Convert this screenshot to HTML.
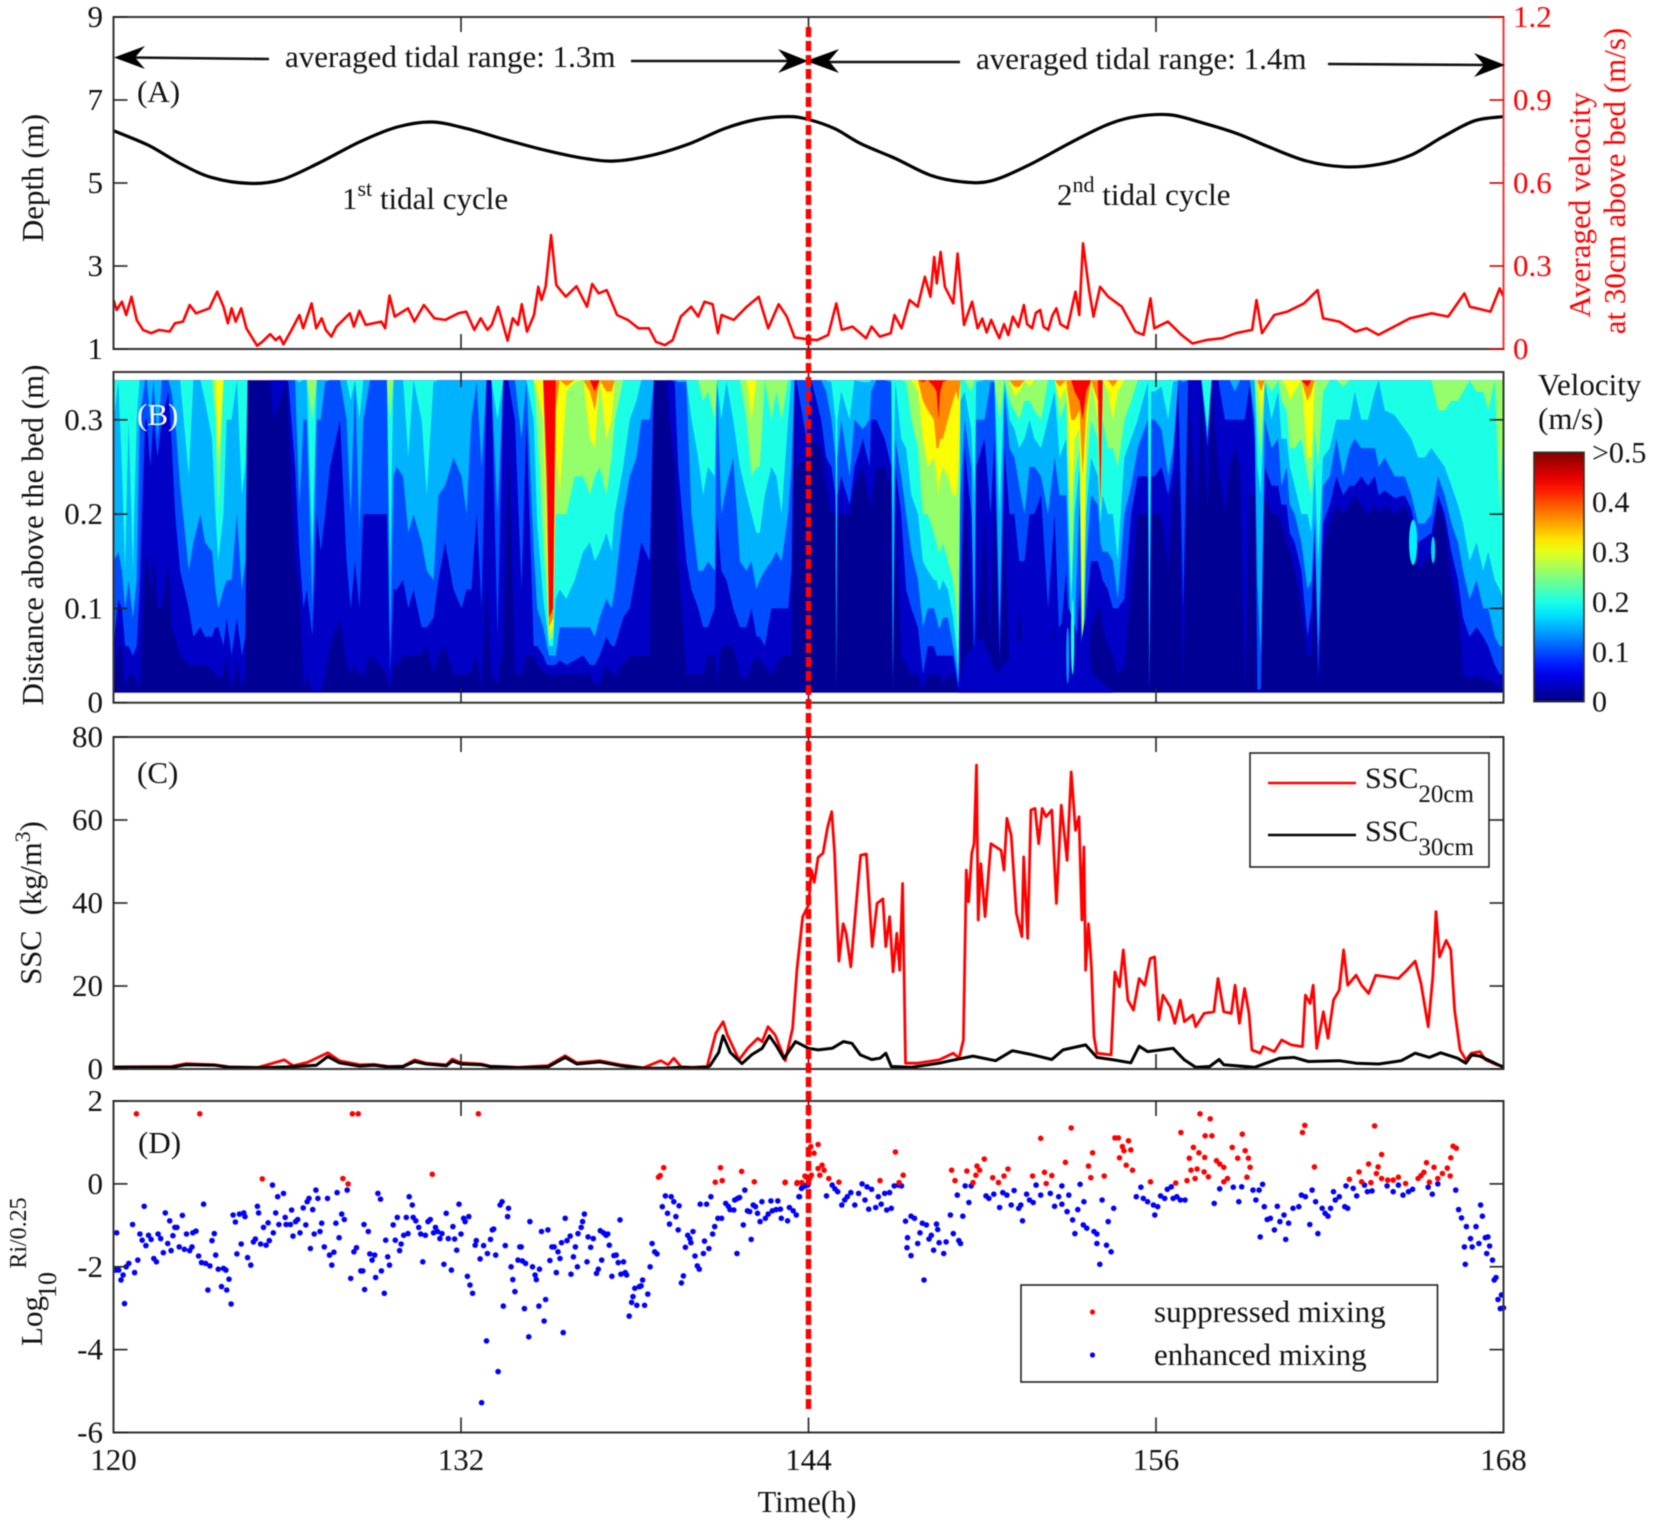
<!DOCTYPE html>
<html lang="en">
<head>
<meta charset="utf-8">
<title>Tidal hydrodynamics and SSC time series</title>
<style>
html,body{margin:0;padding:0;background:#fff;}
svg{display:block;filter:blur(.45px);font-family:"Liberation Serif",serif;fill:#111;}
</style>
</head>
<body>
<svg id="chart" xmlns="http://www.w3.org/2000/svg" width="1654" height="1525" viewBox="0 0 1654 1525" font-size="31">
  <g id="panel-a"></g>
  <g id="panel-b"></g>
  <g id="panel-c"></g>
  <g id="panel-d"></g>
  <g id="colorbar"></g>

  <g>
    <path d="M130 57.5L269 59" stroke="#111" stroke-width="2.6" fill="none"/>
    <polygon points="114,57.5 145,46 135,57.5 145,69" fill="#000"/>
    <path d="M631 61L795 61" stroke="#111" stroke-width="2.6" fill="none"/>
    <polygon points="808,61 778,49 788,61 778,73" fill="#000"/>
    <path d="M820 62L960 62" stroke="#111" stroke-width="2.6" fill="none"/>
    <polygon points="806,61 839,49 829,61 839,73" fill="#000"/>
    <path d="M1328 64L1490 65" stroke="#111" stroke-width="2.6" fill="none"/>
    <polygon points="1505,65 1474,53 1484,65 1474,77" fill="#000"/>
    <text x="285" y="67">averaged tidal range: 1.3m</text>
    <text x="976" y="69">averaged tidal range: 1.4m</text>
    <text x="137" y="102">(A)</text>
    <text x="342" y="209">1<tspan dy="-13" font-size="22">st</tspan><tspan dy="13"> tidal cycle</tspan></text>
    <text x="1057" y="205">2<tspan dy="-13" font-size="22">nd</tspan><tspan dy="13"> tidal cycle</tspan></text>
  </g>

  <text x="137" y="783">(C)</text>
  <text x="138" y="1153">(D)</text>

  <text transform="translate(43,178) rotate(-90)" text-anchor="middle">Depth (m)</text>
  <text transform="translate(43,535) rotate(-90)" text-anchor="middle">Distance above the bed (m)</text>
  <text transform="translate(41,903) rotate(-90)" text-anchor="middle" font-size="30.5">SSC&#160;&#160;(kg/m<tspan dy="-11" font-size="22">3</tspan><tspan dy="11">)</tspan></text>
  <g>
    <text transform="translate(42,1321) rotate(-90)" text-anchor="middle">Log</text>
    <text transform="translate(56,1285) rotate(-90)" text-anchor="middle" font-size="26">10</text>
    <text transform="translate(26,1233) rotate(-90)" text-anchor="middle" font-size="24">Ri/0.25</text>
  </g>
  <text transform="translate(1590,205) rotate(-90)" text-anchor="middle" style="fill:#f00">Averaged velocity</text>
  <text transform="translate(1625,181) rotate(-90)" text-anchor="middle" style="fill:#f00">at 30cm above bed (m/s)</text>
  <text x="807" y="1512" text-anchor="middle" font-size="30.5">Time(h)</text>
  <text x="1538" y="395">Velocity</text>
  <text x="1538" y="429">(m/s)</text>

  <g>
    <rect x="1250" y="753" width="239" height="114" fill="#fff" stroke="#222" stroke-width="1.6"/>
    <line x1="1268" x2="1356" y1="783" y2="783" stroke="#f00" stroke-width="2.6"/>
    <line x1="1268" x2="1356" y1="835" y2="835" stroke="#000" stroke-width="2.6"/>
    <text x="1365" y="788" font-size="30">SSC<tspan dy="14" font-size="25">20cm</tspan></text>
    <text x="1365" y="841" font-size="30">SSC<tspan dy="14" font-size="25">30cm</tspan></text>
  </g>
  <g>
    <rect x="1021" y="1285" width="416.5" height="97" fill="none" stroke="#222" stroke-width="1.6"/>
    <circle cx="1092.5" cy="1312" r="2.6" fill="#f00"/>
    <circle cx="1092.5" cy="1355" r="2.6" fill="#00f"/>
    <text x="1154" y="1322">suppressed mixing</text>
    <text x="1154" y="1365">enhanced mixing</text>
  </g>
  <g id="overlay"></g>
</svg>

<script>
// ---------- Panel A data ----------
const timeTicks = [120, 132, 144, 156, 168];
const depthTicks = [1, 3, 5, 7, 9];
const velocityTicks = [0, 0.3, 0.6, 0.9, 1.2];
const depthHours = [120,121.2,122.3,123.4,124.7,125.8,127.06,128.5,129.8,131,132.2,133.5,134.9,136.2,137.3,138.6,139.9,141.1,142.2,143.3,144,144.9,145.8,147,148.2,149.3,150.3,151.6,153.1,154.4,155.4,156.5,157.6,158.8,159.9,161.2,162.5,163.7,164.8,165.9,167,168];
const depthValues = [6.26,5.91,5.47,5.13,4.99,5.08,5.47,5.99,6.35,6.47,6.31,6.05,5.79,5.6,5.53,5.67,5.95,6.31,6.53,6.6,6.53,6.31,5.95,5.59,5.19,5.03,5.05,5.43,5.99,6.43,6.61,6.64,6.45,6.19,5.87,5.53,5.39,5.45,5.67,6.11,6.5,6.6];
const velHours = [120,120.11,120.29,120.44,120.62,120.8,121.02,121.3,121.57,121.94,122.12,122.4,122.63,122.85,123.31,123.58,123.8,123.95,124.08,124.22,124.41,124.59,124.96,125.14,125.41,125.6,125.74,125.87,126.15,126.42,126.55,126.84,127,127.19,127.33,127.52,127.7,128.16,128.3,128.49,128.71,129.25,129.38,129.53,129.71,130.17,130.39,130.72,131.08,131.45,131.91,132.18,132.46,132.68,132.91,133.06,133.28,133.61,133.79,133.97,134.1,134.28,134.52,134.67,134.78,134.92,135.11,135.29,135.62,135.99,136.35,136.53,136.75,137.03,137.39,137.76,138.13,138.49,138.73,139.04,139.31,139.59,139.95,140.19,140.41,140.69,140.87,141,141.42,141.87,142.28,142.61,142.97,143.25,143.52,143.98,
144.3,144.68,144.96,145.15,145.52,145.99,146.18,146.46,146.84,146.97,147.21,147.49,147.77,148.02,148.21,148.34,148.43,148.56,148.71,149,149.15,149.37,149.65,149.84,150,150.15,150.31,150.45,150.59,150.75,150.9,151.06,151.25,151.44,151.55,151.72,151.85,152,152.12,152.28,152.42,152.56,152.7,152.94,153.22,153.35,153.48,153.69,153.84,154.07,154.35,154.82,155.29,155.57,155.81,155.94,156.41,156.88,157.26,157.73,158.29,158.76,159.32,159.47,159.66,160.08,160.54,161.11,161.58,161.77,162.33,162.89,163.27,163.68,164.11,164.77,165.52,166.09,166.65,166.84,167.55,167.87,168];
const velValues = [.177,.141,.171,.123,.189,.105,.069,.057,.069,.063,.093,.099,.159,.129,.147,.207,.153,.093,.147,.099,.147,.075,.012,.026,.054,.032,.045,.017,.069,.123,.075,.165,.075,.111,.069,.045,.081,.129,.081,.138,.087,.099,.075,.193,.117,.147,.099,.159,.111,.105,.129,.135,.069,.111,.069,.087,.153,.03,.111,.087,.162,.063,.123,.225,.177,.225,.412,.231,.189,.227,.153,.235,.201,.213,.123,.105,.075,.075,.026,.014,.032,.117,.153,.117,.171,.162,.057,.123,.105,.153,.189,.075,.162,.117,.042,.035,
.032,.051,.165,.069,.081,.039,.081,.045,.057,.123,.075,.177,.153,.261,.189,.333,.237,.351,.225,.165,.345,.087,.171,.075,.11,.06,.105,.07,.039,.09,.05,.117,.08,.159,.09,.075,.13,.141,.08,.069,.12,.147,.09,.075,.207,.123,.382,.213,.117,.225,.189,.153,.063,.051,.183,.075,.099,.051,.02,.032,.039,.057,.069,.177,.057,.123,.135,.165,.213,.111,.099,.063,.075,.051,.075,.111,.129,.117,.201,.153,.135,.219,.189];

// ---------- Panel B data: each column = hour, then heights (m) where speed crosses each contour level ----------
const heightTicks = [0, 0.1, 0.2, 0.3];
const contourLevels = [.02,.05,.1,.15,.2,.25,.3,.35];
const bandSpeeds = [.01,.035,.1,.15,.2,.26,.31,.37,.44];
const contourColumns = [
[120,.02,.06,.15,.3],[120.17,.06,.11,.16,.34],[120.29,.06,.1,.14,.25],[120.4,.015,.06,.1,.14],[120.52,.03,.06,.13,.3],[120.67,.03,.05,.09,.14],[120.8,.02,.06,.13,.3],[120.9,.012,.12,.3],[121.09,.15,.3,.342],[121.15,.16,.3],[121.27,.12,.25,.3],[121.38,.16,.3],[121.52,.1,.26,.28],[121.67,.1,.3],[121.9,.15,.33],[122,.08,.28,.33],[122.13,.07,.2,.3],[122.3,.05,.14,.23],[122.6,.04,.1,.14,.24],[122.76,.04,.07,.17],[123,.04,.08,.2],[123.16,.04,.07,.17,.32],[123.4,.035,.07,.16,.28],[123.52,.03,.08,.12,.2,.3],[123.62,.025,.08,.1,.15,.2,.26],[123.8,.03,.06,.12,.2],[123.91,.05,.09,.13,.3],[124.08,.012,.05,.13,.3],[124.26,.045,.09,.2],[124.43,.012,.05,.12,.22],[124.55,.03,.07,.15,.25],
[124.63,.342],[125.41,.342],[125.52,.3],[125.75,.32],[125.98,.342],[126.04,.3,.34],[126.27,.15,.25],[126.42,.12,.16,.21,.34],[126.56,.012,.1,.3],[126.67,.03,.12,.3],[126.87,.012,.07,.1,.16,.3],[127.02,.012,.2,.3],[127.16,.012,.16,.3],[127.31,.03,.2,.34],[127.48,.06,.25],[127.82,.09,.3],[128.05,.04,.15,.3],[128.19,.03,.1,.2,.32],[128.34,.04,.15,.34],[128.49,.03,.1,.18,.3],[128.63,.03,.2,.3],[128.86,.05,.2],[129.2,.04,.2],[129.44,.03,.2],[129.55,.012,.03,.06,.14,.3],[129.67,.04,.12,.24],[129.78,.04,.12,.25],[130,.05,.13,.24],[130.18,.05,.1,.18,.26],[130.36,.05,.12,.2],[130.64,.05,.08,.17,.3],[130.82,.06,.08,.14,.22],[131.05,.03,.09,.13,.34],[131.22,.05,.13,.22],[131.45,.06,.17,.23],[131.74,.03,.12,.26],
[132.02,.03,.1,.24],[132.19,.03,.12,.2],[132.36,.035,.12,.3],[132.54,.05,.2,.34],[132.71,.012,.1,.25],[132.88,.13,.342],[133.05,.03,.342],[133.26,.02,.07,.2,.3],[133.46,.06,.342],[133.63,.28],[133.86,.03,.3],[134.09,.03,.12,.28],[134.26,.05,.3],[134.51,.05,.06,.16,.3],[134.63,.04,.06,.1,.19,.29,.33],[134.84,.035,.05,.08,.11,.17,.3],[134.97,.03,.04,.06,.08,.11,.15,.2,.24],[135.04,.03,.04,.05,.06,.065,.07,.08,.09],[135.18,.03,.04,.05,.06,.07,.08,.09,.1],[135.27,.03,.04,.05,.11,.2,.27,.31],[135.41,.03,.045,.08,.12,.2,.22],[135.64,.03,.04,.08,.11,.2,.33,.336],[135.93,.03,.045,.08,.13,.24,.34],[136.22,.03,.05,.08,.16,.24],[136.45,.03,.04,.08,.17,.22,.28,.33],[136.62,.02,.04,.07,.15,.24,.27,.31,.33],[136.79,.02,.05,.09,.16,.25],[137.02,.04,.07,.11,.18,.22,.28,.33],[137.2,.03,.06,.1,.16,.26,.3,.33],[137.31,.03,.06,.12,.2,.3],[137.6,.04,.09,.2,.25],[137.83,.05,.1,.24,.3],[138.06,.05,.14,.26,.32],[138.23,.05,.17,.3],[138.52,.05,.15,.3],
[138.66,.342],[139.1,.342],[139.23,.29],[139.38,.25,.34],[139.5,.15,.25,.34],[139.78,.03,.15,.34],[139.96,.03,.12,.2,.3],[140.19,.03,.1,.14,.26],[140.36,.03,.08,.14,.22,.32],[140.53,.05,.08,.15,.25,.33],[140.76,.05,.1,.14,.24,.3],[140.84,.02,.2,.342],[140.99,.06,.14,.2,.3],[141.17,.06,.13,.23,.34],[141.4,.06,.1,.26,.3],[141.63,.03,.08,.15,.25],[141.86,.025,.08,.14,.22,.3],[142.03,.04,.1,.15,.2,.24,.3],[142.2,.05,.07,.12,.18,.25],[142.32,.045,.07,.13,.18,.25],[142.49,.04,.06,.14,.22],[142.72,.03,.1,.15,.25,.3],[142.89,.04,.1,.16,.24,.33],[143.07,.05,.1,.15,.2,.3],[143.3,.05,.1,.2,.3],[143.41,.05,.14,.25],[143.52,.342],[143.58,.25,.342],[143.93,.26,.28],
[144.1,.28,.342],[144.44,.27,.3],[144.61,.23,.26,.33],[144.79,.2,.25,.3,.34],[144.93,.2,.22,.26,.3],[144.96,.012,.014,.02,.2],[145,.2,.22,.26,.3],[145.13,.2,.24,.3,.33],[145.42,.2,.21,.24,.3],[145.59,.23,.25,.3],[145.88,.25,.28,.29,.34],[146.11,.21,.25,.3,.34],[146.17,.21,.3,.33],[146.34,.25,.3],[146.63,.25,.28],[146.86,.23,.25,.34],[146.91,.012,.015,.03,.2],[147,.2,.25,.28,.34],[147.2,.05,.2,.24,.28],[147.37,.04,.12,.2,.27,.34],[147.55,.03,.1,.16,.22,.3],[147.78,.03,.08,.13,.2,.27,.33],[147.95,.012,.03,.08,.15,.2,.28,.32,.34],[148.12,.03,.06,.1,.14,.2,.25,.31],
[148.33,.03,.06,.1,.13,.18,.26,.3,.335],[148.42,.03,.05,.09,.13,.17,.24,.27,.33],[148.49,.03,.05,.08,.12,.16,.22,.27,.3],[148.55,.03,.05,.08,.12,.16,.24,.28,.33],[148.64,.02,.05,.09,.13,.17,.25,.28,.34],[148.81,.03,.05,.09,.12,.15,.24,.3,.342],[148.99,.03,.05,.06,.09,.13,.22,.32],[149.1,.02,.03,.04,.06,.1,.22,.33],[149.18,.012,.015,.02,.03,.05,.25,.32],
[149.25,.012,.1,.22,.32],[149.39,.22,.27,.3,.33],[149.62,.1,.2,.25,.29,.33],[149.73,.02,.03,.07,.22],[149.79,.05,.25,.3,.34],[150.08,.2,.28,.3],[150.29,.06,.2,.34],[150.42,.22,.28,.34],[150.6,.03,.05,.08,.2,.3],[150.77,.2,.27,.33],[150.94,.03,.2,.27,.3,.32],[151.11,.03,.2,.26,.29,.31,.325,.335],[151.28,.1,.15,.23,.27,.3,.33,.335],[151.46,.03,.15,.2,.28,.32],[151.63,.03,.2,.25,.3,.32,.335],[151.8,.04,.2,.25,.28,.31],[152.03,.04,.22,.24,.27,.3],[152.27,.05,.1,.2,.3],[152.5,.08,.2,.26,.33],[152.67,.03,.06,.22,.26,.3,.32,.335],[152.9,.04,.14,.22,.28,.32,.335],[153.07,.015,.03,.05,.1,.12,.2,.3],[153.19,.02,.03,.08,.2,.24,.28,.3,.33],[153.36,.07,.12,.22,.25,.27,.29,.31,.32],[153.47,.012,.014,.016,.018,.02,.05,.24,.3],[153.59,.012,.1,.15,.2,.24,.28,.31,.33],[153.76,.08,.15,.22,.26,.3],[153.99,.1,.15,.21,.24,.28,.3,.32],[154.08,.1,.14,.17,.19,.2,.2,.205,.21],[154.16,.08,.13,.16,.22,.3],[154.34,.06,.12,.16,.2,.27,.33],[154.51,.05,.1,.15,.2,.27,.3,.335],[154.68,.03,.1,.11,.15,.25,.33],[154.91,.04,.11,.2,.26,.3],[155.14,.12,.2,.23,.28,.32],[155.37,.2,.24,.27,.3],[155.72,.2,.24,.3,.34],[155.77,.012,.014,.016,.1],[155.84,.2,.24,.3,.33],
[155.96,.2,.24,.3,.33],[156.19,.2,.25,.29,.335],[156.42,.14,.22,.24,.3],[156.59,.22,.25,.27,.34],[156.77,.25,.34],[156.94,.012,.1,.34],[157.11,.342],[157.4,.2,.342],[157.57,.342],[157.78,.2,.27,.28,.29],[157.92,.342],[158.15,.25,.342],[158.38,.2,.3],[158.55,.25,.3],[158.72,.27,.3,.33],[158.9,.25,.3],[159.07,.012,.3],[159.24,.22,.34],[159.41,.22,.28,.3,.342],[159.5,.012,.014,.13,.25,.3],[159.62,.012,.014,.05,.22,.26,.3,.33],[159.76,.22,.25,.3,.34],[159.99,.2,.23,.27,.3,.33],[160.22,.2,.23,.28,.33],[160.33,.19,.21,.23,.28,.32],[160.51,.17,.21,.25,.28,.31,.335],[160.62,.16,.18,.21,.25,.27,.32],[160.79,.14,.17,.2,.23,.27,.33],[161.02,.1,.14,.17,.2,.28],[161.23,.05,.07,.12,.2,.24,.26,.32,.335],[161.37,.05,.1,.13,.18,.22,.26,.33],[161.48,.15,.18,.2,.25,.29],[161.6,.012,.03,.06,.15,.25],[161.77,.16,.19,.23,.26,.33],[162,.19,.21,.24,.27],[162.23,.21,.24,.28,.3],[162.46,.2,.22,.24,.3,.335],[162.69,.21,.23,.27,.3],[162.86,.22,.23,.28,.33],[163.09,.21,.24,.27,.3],[163.32,.2,.23,.27,.3],[163.56,.21,.24,.27,.33],[163.69,.2,.22,.25,.342],[163.9,.21,.225,.26,.31],[164.24,.2,.217,.24,.305],[164.59,.21,.22,.24,.29],[164.82,.19,.205,.22,.28],[165.05,.14,.17,.19,.26],[165.28,.15,.175,.19,.26],[165.51,.16,.18,.2,.27],[165.74,.21,.22,.24,.26,.31],[165.97,.19,.2,.22,.25,.31],[166.2,.13,.16,.19,.23,.32],[166.43,.1,.13,.17,.21,.32],[166.6,.03,.09,.14,.19,.33],[166.83,.025,.07,.11,.15],[167.07,.03,.08,.13,.17,.33],[167.3,.025,.07,.1,.14,.33],[167.47,.025,.06,.1,.16,.31],[167.7,.02,.04,.07,.13],[167.87,.017,.03,.06,.12,.2],[168,.015,.03,.06,.11,.3]
];
const nearBedHours = [149.2,149.4,150,150.5,151,151.5,152,152.5,153,153.4,153.55,153.8,154.2,154.5];
const nearBedTops = [.012,.05,.07,.03,.05,.08,.04,.07,.1,.06,.09,.03,.02,.012];
const patchHours = [164.88,165.57,152.95,153.12];
const patchHeights = [.17,.162,.05,.07];
const patchSpeeds = [.18,.17,.14,.2];
const patchHalfHours = [.14,.07,.05,.06];
const patchHalfMeters = [.024,.014,.03,.04];
const colorbarTicks = [0, 0.1, 0.2, 0.3, 0.4, 0.5];
const colorbarTickLabels = ['0', '0.1', '0.2', '0.3', '0.4', '>0.5'];

// ---------- Panel C data ----------
const sscTicks = [0, 20, 40, 60, 80];
const ssc20Hours = [120,122,122.5,123.5,124,125,125.9,126.2,126.7,127.4,127.8,128.5,129,129.5,130,130.4,130.8,131.5,131.7,132,132.7,133,134,135,135.6,136,136.8,137.5,138.3,138.9,139.15,139.35,139.6,140,140.5,140.8,141.05,141.2,141.6,141.9,142.25,142.4,142.6,142.85,143.1,143.2,143.45,143.6,143.8,144,144.1,144.2,144.33,144.5,144.66,144.8,144.9,145.05,145.2,145.3,145.46,145.7,145.8,146,146.2,146.37,146.57,146.67,146.8,146.92,147.05,147.15,147.25,147.35,147.74,148.51,149,149.2,149.35,149.45,149.53,149.64,149.72,149.8,149.86,149.95,150.1,150.3,150.65,150.75,150.85,151,151.18,151.37,151.43,151.57,151.68,151.82,151.95,152.07,152.2,152.4,152.56,152.73,152.93,153.07,153.22,153.34,153.44,153.51,153.57,153.67,153.77,153.86,153.96,154.45,154.58,154.74,154.87,155.03,155.22,155.42,155.61,155.8,155.95,156.1,156.24,156.49,156.65,156.84,156.98,157.27,157.37,157.66,158,158.14,158.34,158.6,158.73,158.88,159.06,159.21,159.31,159.6,159.7,160.09,160.34,160.67,161.06,161.16,161.32,161.43,161.55,161.78,161.94,162.13,162.33,162.48,162.62,162.91,163.1,163.34,163.59,164.37,164.66,164.95,165.15,165.4,165.56,165.67,165.79,166.02,166.18,166.31,166.5,166.7,166.89,167.19,167.38,167.77,168];
const ssc20Values = [.5,.6,1.3,1,.5,.4,2.2,.8,1.6,3.9,2,1,1.1,.6,.7,2.2,1.4,1,2.4,1.5,1.2,.7,.4,.8,3.2,1.5,2,1,.3,2,1,2.6,.5,.4,.6,8.6,11.4,8.2,2.2,5,7.4,6.6,10.2,8.2,3.8,2,9.8,23.8,36.7,39.5,47.9,45,51,52,58.3,62,52,26,35,32.7,24.6,43.9,51.5,51.8,29.5,39.9,41,29.5,36.7,23.4,32.7,23.8,44.7,1.4,1.4,2.2,3.8,2.6,7,47.9,40.3,52,54.3,73.2,35.9,49.5,36.7,54.3,52.7,47.9,60.4,56.3,37.5,31.9,51.1,31.5,62.4,62.8,54.3,62.8,60.8,62.4,39.9,63.6,50.3,71.6,57.5,60.8,35.9,53.5,23.8,35,24.6,7.8,3.8,3.4,23.4,19.8,28.7,16.6,14.2,21.8,20.2,26.6,27,11.8,17.8,15,11,16.6,11.4,13,10.2,13.4,13.8,21.8,13.8,13.4,20.2,11,19.4,13.4,4.6,3.8,5.4,4.2,7,5.8,5.4,17.8,15.8,20.2,5,13.8,7.4,16.6,19,28.7,20.2,22.6,20.2,18.2,22.6,21.8,23.8,26,20.6,10.2,22.2,37.9,27,31,28.7,14.2,4.6,2.2,3.8,4.2,2.2,1,.6];
const ssc30Hours = [120,122,122.5,123.5,124,125,126,126.5,127,127.4,127.8,128.5,129,129.5,130,130.4,130.8,131.5,131.7,132,132.7,133,134,135,135.6,136,136.8,137.5,138.3,139,139.6,140,140.5,140.6,140.9,141.05,141.3,141.7,142.05,142.4,142.65,142.9,143.15,143.55,144,144.33,144.82,145.21,145.5,145.79,146.18,146.47,146.67,146.86,147.54,148.51,148.9,149.68,150.46,151.04,151.63,152.4,152.79,153.57,153.96,154.54,155.13,155.42,155.71,156.59,156.98,157.37,157.85,158.18,158.34,159.41,159.8,160.28,160.77,161.26,162.33,162.91,163.69,164.47,164.95,165.44,165.83,166.41,166.7,166.9,167.19,167.58,168];
const ssc30Values = [.4,.4,1,.9,.4,.3,.5,.7,.9,3,1.5,.7,.9,.5,.6,1.8,1.2,.8,1.9,1.2,1,.6,.3,.5,2.8,1.2,1.7,.8,.2,.2,.4,.3,.4,.8,4,8,4,1.3,3.5,5,8,5.5,2.5,6.6,5,4.6,5,6.6,6.2,3.4,2.3,2.6,3.8,.6,.4,1.4,2,3.1,2,4.4,3.6,2.3,4.6,5.8,2.8,2.2,1.5,5.5,4.2,5,2.2,.4,.6,2.3,1,.4,1.4,2.6,2.8,1.8,2,1.4,1.2,2,3.8,2.8,3.9,2.6,1.4,3.4,3.1,1.8,.4];

// ---------- Panel D data ----------
const riTicks = [-6, -4, -2, 0, 2];
const suppressedHours = [120.79,122.98,125.14,127.92,128.1,128.25,128.45,131.01,132.6,138.82,138.88,139,140.78,141.02,140.96,141.69,142.13,143.19,143.6,143.88,143.94,
143.2,143.61,143.77,143.9,144.04,144.1,144.08,144.19,144.33,144.33,144.47,144.39,144.54,144.7,145.05,146.47,147,147.13,147.27,148.94,149.06,149.47,149.68,149.78,149.82,149.91,150.07,150.36,150.56,150.75,150.89,151.74,152.02,152.15,152.21,152.4,152.87,153.07,153.67,153.75,153.81,154.21,154.58,154.7,154.74,154.84,154.89,154.97,155.13,155.05,155.19,155.81,156.68,156.86,157.07,157.15,157.21,157.29,157.35,157.42,157.48,157.68,157.52,157.7,157.87,157.93,157.66,157.81,158.09,158.2,158.34,158.47,158.34,158.63,158.82,158.98,159.08,159.14,159.19,159.25,161.06,161.14,161.47,162.68,163.01,163.1,163.34,163.55,163.42,163.61,163.67,163.79,163.79,164,164.19,164.37,164.62,165.05,165.15,165.25,165.34,165.44,165.6,165.73,165.89,166.06,166.16,166.18,166.26,166.37];
const suppressedValues = [1.69,1.69,.12,.13,0,1.69,1.69,.23,1.69,.16,.2,.39,.04,.08,.39,.3,.05,.03,.01,.19,.17,
.04,.03,.03,.17,.13,.21,.9,.74,.95,.37,.45,.21,.33,.13,.04,.08,.77,.03,.21,.33,.08,.31,.03,.21,.43,.33,.6,.15,.03,.19,.36,.19,1.1,.28,.01,.2,.52,1.35,.43,.15,.75,.19,1.11,1.11,.63,.9,.8,.45,.82,1.04,.33,.05,.02,1.24,.08,.62,.33,.88,.13,.36,.75,.64,1.69,1.16,1.57,1.16,.29,.17,.56,.48,.4,.13,.05,.88,.62,1.2,.8,.16,.62,.4,1.24,1.41,.41,.11,.29,.05,.48,1.4,.03,.25,.41,.71,.13,.09,.09,.16,.01,.13,.2,.28,.51,.04,.4,.13,.25,.38,.19,.63,.91,.86];
const enhancedHours = [120.11,120.07,120.18,120.26,120.33,120.38,120.44,120.53,120.66,120.73,120.84,120.91,120.99,121.06,121.12,121.21,121.3,121.39,121.48,121.54,121.63,121.72,121.79,121.87,121.94,121.99,122.05,122.12,122.19,122.27,122.38,122.45,122.52,122.63,122.71,122.74,122.85,122.94,123.04,123.11,123.18,123.26,123.33,123.4,123.48,123.53,123.62,123.73,123.8,123.88,123.91,123.99,124.06,124.13,124.21,124.26,124.35,124.41,124.5,124.54,124.63,124.74,124.83,124.9,124.97,125.01,125.08,125.18,125.27,125.34,125.38,125.49,125.52,125.6,125.67,125.71,125.87,125.93,125.96,126.11,126.15,126.2,126.29,126.36,126.44,126.55,126.64,126.69,126.75,126.8,126.88,126.93,126.99,127.06,127.13,127.19,127.28,127.39,127.46,127.54,127.61,127.68,127.72,127.79,127.88,127.97,128.07,128.19,128.3,128.39,128.65,128.8,128.67,128.54,128.61,128.85,128.93,129.02,129.05,129.13,129.22,129.25,129.35,129.4,129.47,129.53,129.66,129.73,129.8,129.88,129.93,130.02,130.11,130.17,130.21,130.32,130.35,130.44,130.54,130.61,130.68,130.77,130.86,130.94,131.05,131.12,131.19,131.27,131.34,131.41,131.49,131.56,131.67,131.72,131.78,131.85,131.93,132,132.09,132.14,132.22,132.27,132.31,132.4,132.49,132.53,132.66,132.78,132.88,132.91,133.02,133.08,133.13,133.2,133.28,133.35,133.42,133.46,133.53,133.61,133.64,133.73,133.79,133.86,133.97,134.03,134.08,134.19,134.12,134.23,134.34,134.38,134.47,134.56,134.6,134.69,134.71,134.78,134.87,134.92,135,135.07,135.14,135.22,135.29,135.35,135.42,135.47,135.53,135.6,135.66,135.77,135.8,135.88,135.95,136.04,136.02,136.15,136.2,136.26,136.35,136.39,136.48,136.57,136.68,136.74,136.81,136.86,136.92,137.01,137.07,137.12,137.21,137.28,137.36,137.43,137.49,137.52,137.61,137.67,137.72,137.81,137.89,137.94,138,138.07,138.16,138.22,138.27,138.34,138.45,138.53,138.6,138.69,138.77,138.95,139.06,139.13,139.2,139.26,139.35,139.42,139.5,139.53,139.61,139.68,139.75,139.83,139.9,139.94,140.01,140.08,140.16,140.23,140.26,140.37,140.41,140.48,140.56,140.63,140.69,140.76,140.87,141,141.14,141.23,141.29,141.42,141.45,141.55,141.62,141.53,141.75,141.8,141.89,141.97,142.02,142.09,142.17,142.24,142.33,142.39,142.51,142.61,142.7,142.75,142.88,142.94,143.03,143.06,143.28,143.34,143.47,143.58,143.67,143.76,143.89,143.98,
143.69,143.79,143.94,144.62,144.82,144.91,145.01,145.15,145.25,145.34,145.46,145.6,145.73,145.85,145.95,146.02,146.08,146.18,146.32,146.41,146.51,146.63,146.7,146.8,146.86,146.96,147.11,147.21,147.35,147.42,147.4,147.54,147.54,147.66,147.77,147.85,147.93,147.99,148.07,148.16,148.24,148.32,148.42,148.46,148.51,148.67,148.75,148.9,149,149.19,149.25,149.33,149.14,149.41,149.54,149.62,150.13,150.23,150.4,150.6,150.71,150.85,151,151.1,151.26,151.33,151.39,151.53,151.63,151.76,151.86,152.02,152.35,152.5,152.64,152.75,152.75,152.93,152.99,153.12,153.2,153.3,153.38,153.49,153.51,153.61,153.86,153.96,153.96,154.06,154.14,154.29,154.35,154.45,154.54,155.32,155.48,155.56,155.71,155.91,155.96,156.06,156.16,156.3,156.39,156.53,156.59,156.72,156.84,157,158.01,158.2,158.67,158.86,158.96,159.35,159.45,159.56,159.68,159.74,159.6,159.84,159.95,160.09,160.19,160.28,160.48,160.58,160.42,160.73,160.93,161.02,161.16,161.31,161.39,161.51,161.59,161.74,161.84,161.94,162.03,162.13,162.19,162.33,162.52,162.62,162.56,162.81,162.93,163.2,163.3,163.46,163.98,164.19,164.37,164.53,164.72,164.86,165.4,165.54,165.73,166.35,166.45,166.55,166.72,166.65,166.86,166.92,167.05,167.15,167.21,167.27,167.37,167.46,167.52,167.42,167.62,167.68,167.74,167.81,167.93,167.89,168,166.68,132.71];
const enhancedValues = [-1.18,-2.08,-2.08,-2.32,-2.2,-2.89,-2,-1.92,-.98,-2.14,-1.84,-1.21,-1.36,-.54,-1.49,-1.24,-1.34,-1.8,-1.88,-1.21,-1.32,-1.66,-.7,-1.44,-.89,-1.61,-1.25,-1.05,-1.05,-1.52,-.76,-1.58,-1.21,-1.61,-1.52,-1.18,-1.14,-1.74,-1.9,-.49,-1.92,-2.56,-1.98,-1.37,-1.2,-1.72,-2.06,-2.48,-2.04,-2.08,-2.56,-2.3,-2.9,-.75,-.92,-1.69,-.73,-1.45,-.7,-.79,-1.78,-1.96,-1.4,-1.33,-.54,-.7,-1.45,-1.05,-1.48,-.94,-1.37,-.03,-1.18,-.7,-.31,-.98,-.23,-.81,-.98,-.98,-.63,-1.26,-.91,-.86,-1.18,-.58,-.99,-.43,-.35,-1.56,-.62,-1.21,-.15,-.35,-1.15,-.95,-1.52,-.35,-1.72,-1.96,-1.65,-.95,-.21,-1.3,-.73,-.86,-.15,-2.28,-1.64,-1.54,-.98,-1.15,-2.55,-2.1,-2.1,-1.69,-1.84,-1.72,-2.26,-.23,-.37,-2.1,-2.64,-1.36,-1.76,-1.96,-.99,-1.36,-.81,-1.61,-1.45,-1.24,-.81,-1.2,-.31,-.51,-.81,-.89,-1.05,-1.21,-1.88,-1.24,-.91,-.86,-1.18,-1.05,-1.15,-1.32,-1.2,-1.94,-.71,-1.32,-2.08,-1.03,-1.33,-1.6,-.49,-1.21,-.83,-.91,-2.23,-.79,-2.44,-2.64,-1.48,-1.37,-1.81,-1.49,-3.79,-1.68,-1.34,-1.11,-1.09,-1.72,-4.53,-.51,-.43,-2.95,-1.49,-.79,-.59,-2,-2.31,-2.6,-1.84,-1.52,-1.52,-3.01,-1.86,-1.92,-3.69,-.91,-2,-2.2,-2.31,-2.95,-2.06,-1.15,-3.31,-2.79,-1.11,-1.85,-1.52,-1.52,-2.14,-1.64,-1.8,-1.42,-3.59,-.83,-1.37,-1.26,-2.18,-1.76,-1.52,-1.2,-2,-1.05,-.91,-.73,-1.88,-1.28,-1.53,-1.32,-2.16,-2.06,-1.13,-1.84,-1.18,-1.24,-1.21,-1.48,-2.23,-1.73,-1.72,-1.9,-.87,-2.18,-1.88,-2.14,-2.2,-3.19,-2.86,-2.72,-2.52,-2.93,-2.48,-2.46,-2.32,-2.93,-2.66,-2,-1.44,-1.64,-1.69,-.55,-.29,-.71,-.97,-.31,-.43,-.79,-1.11,-.53,-2.39,-2.22,-1.53,-1.24,-1.32,-1.42,-1.15,-1.74,-1.98,-2.06,-.49,-1.68,-1.38,-.49,-1.56,-.31,-1.21,-1.03,-.83,-.83,-.47,-.54,-.62,-.63,-.39,-.35,-.33,-1.68,-.99,-.15,-.65,-.67,-1.34,-.51,-.55,-.71,-.91,-.43,-.83,-.73,-.41,-.65,-.62,-.41,-.61,-.83,-.89,-.57,-.65,-.75,-.31,-.11,-.05,-.03,
-.31,-.08,-.03,-.29,-.03,-.12,-.19,-.51,-.39,-.31,-.21,-.51,-.23,0,-.39,-.07,-.61,-.13,-.57,-.31,-.49,-.23,-.63,-.21,-.59,-.05,-.03,-.05,-.9,-1.3,-1.54,-1.73,-.78,-.83,-1.44,-1.18,-.95,-2.32,-.99,-1.33,-1.24,-1.6,-.97,-1.1,-1.42,-1.68,-1.4,-.75,-1.2,-1.37,-1.44,-.78,-.27,-.05,-.45,-.05,-.29,-.35,-.25,-.57,-.21,-.27,-.51,-.16,-.59,-.51,-.89,-.25,-.39,-.45,-.03,-.27,-.23,-.54,-.31,-.05,-.49,-.67,-.27,-.87,-1.2,-.62,-.01,-.99,-.43,-1.07,-1.15,-1.21,-1.44,-1.94,-.39,-1.48,-.91,-1.64,-.59,-.31,-.08,-.35,-.43,-.51,-.75,-.55,-.29,-.35,-.13,-.07,-.35,-.31,-.39,-.39,-.47,-.12,-.08,-.43,-.07,-.15,-.39,-.15,-.01,-.55,-1.28,-.86,-.83,-1.11,-.54,-.91,-1.34,-.95,-.75,-.59,-.55,-.27,-.31,-.98,-.15,-.43,-1.2,-.59,-.71,-.78,-.59,-.19,-.39,-.31,-.55,-.59,-.05,-.11,-.29,-.03,-.19,-.17,-.05,-.19,-.03,-.27,-.19,-.13,-.08,-.25,0,-.15,-.62,-.82,-1.03,-1.52,-1.32,-1.52,-1.03,-1.44,-.51,-.78,-1.3,-1.28,-1.5,-1.68,-1.84,-2.32,-2.26,-2.79,-2.68,-3.01,-2.99,-1.94,-5.28];

// ---------- Axis functions ----------
const plotLeft = 113.5, plotRight = 1503.5;
const xTime = h => plotLeft + (h - 120) * (plotRight - plotLeft) / 48;
const linear = (d0, d1, r0, r1) => v => r0 + (v - d0) * (r1 - r0) / (d1 - d0);
const yDepth = linear(1, 9, 349, 17);
const yVelocity = linear(0, 1.2, 349, 17);
const yHeight = linear(0, 0.35, 702.7, 372.65);
const ySSC = linear(0, 80, 1069, 737);
const yRi = linear(-6, 2, 1432.5, 1101);
const yColorbar = linear(0, 0.5, 701.7, 452.3);

const NS = 'http://www.w3.org/2000/svg';
function mk(parent, tag, attrs) {
  const el = document.createElementNS(NS, tag);
  for (const k in attrs) el.setAttribute(k, attrs[k]);
  parent.appendChild(el);
  return el;
}
function jet(t) {
  const c = v => Math.round(255 * Math.max(0, Math.min(1, v)));
  return 'rgb(' + c(1.5 - Math.abs(4 * t - 3)) + ',' + c(1.5 - Math.abs(4 * t - 2)) + ',' + c(1.5 - Math.abs(4 * t - 1)) + ')';
}
function linePath(hours, values, yFn) {
  return hours.map((h, i) => (i ? 'L' : 'M') + xTime(h).toFixed(1) + ' ' + yFn(values[i]).toFixed(1)).join('');
}
function smoothPath(hours, values, yFn) {
  const px = hours.map(xTime), py = values.map(yFn);
  let d = 'M' + px[0].toFixed(1) + ' ' + py[0].toFixed(1);
  for (let i = 0; i < px.length - 1; i++) {
    const a = Math.max(i - 1, 0), b = Math.min(i + 2, px.length - 1);
    const c1x = px[i] + (px[i + 1] - px[a]) / 6, c1y = py[i] + (py[i + 1] - py[a]) / 6;
    const c2x = px[i + 1] - (px[b] - px[i]) / 6, c2y = py[i + 1] - (py[b] - py[i]) / 6;
    d += 'C' + c1x.toFixed(1) + ' ' + c1y.toFixed(1) + ' ' + c2x.toFixed(1) + ' ' + c2y.toFixed(1) + ' ' + px[i + 1].toFixed(1) + ' ' + py[i + 1].toFixed(1);
  }
  return d;
}
function drawLine(parent, hours, values, yFn, color, width, name) {
  const el = mk(parent, 'path', {d: linePath(hours, values, yFn), fill: 'none', stroke: color, 'stroke-width': width, 'stroke-linejoin': 'round'});
  
  
}
function drawDots(parent, hours, values, color, name) {
  hours.forEach((h, i) => {
    const el = mk(parent, 'circle', {cx: xTime(h).toFixed(1), cy: yRi(values[i]).toFixed(1), r: 2.8, fill: color});
    
    
  });
}
function drawFrame(parent, top, bottom, name) {
  const el = mk(parent, 'rect', {x: plotLeft, y: top, width: plotRight - plotLeft, height: bottom - top, fill: 'none', stroke: '#333', 'stroke-width': 2});
  
  
}
function drawTimeTicks(parent, top, bottom) {
  timeTicks.slice(1, -1).forEach(t => {
    [[top, top + 15], [bottom, bottom - 15]].forEach(p => {
      const el = mk(parent, 'line', {x1: xTime(t), x2: xTime(t), y1: p[0], y2: p[1], stroke: '#222', 'stroke-width': 1.6});
      
      
    });
  });
}
function drawYTicks(parent, ticks, yFn, labels, opts) {
  ticks.forEach((t, i) => {
    const y = yFn(t);
    const left = mk(parent, 'line', {x1: plotLeft, x2: plotLeft + 14, y1: y, y2: y, stroke: '#222', 'stroke-width': 1.6});
    
    
    if (!opts || !opts.noRight) {
      const right = mk(parent, 'line', {x1: plotRight, x2: plotRight - 14, y1: y, y2: y, stroke: '#222', 'stroke-width': 1.6});
      
      
    }
    const label = mk(parent, 'text', {x: 103, y: y + 10, 'text-anchor': 'end'});
    
    
    label.textContent = labels[i];
  });
}

// ---------- Panel A ----------
const panelA = document.getElementById('panel-a');
const depthLine = mk(panelA, 'path', {d: smoothPath(depthHours, depthValues, yDepth), fill: 'none', stroke: '#000', 'stroke-width': 3.2});


drawLine(panelA, velHours, velValues, yVelocity, '#f00', 2.6, 'velocity-line');
drawFrame(panelA, 17, 349, 'panel-a-frame');
drawTimeTicks(panelA, 17, 349);
drawYTicks(panelA, depthTicks, yDepth, depthTicks.map(String), {noRight: true});
const redAxis = mk(panelA, 'line', {x1: plotRight, x2: plotRight, y1: 17, y2: 349, stroke: '#f33', 'stroke-width': 2});


velocityTicks.forEach(t => {
  const tick = mk(panelA, 'line', {x1: plotRight, x2: plotRight - 14, y1: yVelocity(t), y2: yVelocity(t), stroke: '#c00', 'stroke-width': 1.6});
  
  
  const label = mk(panelA, 'text', {x: 1513, y: yVelocity(t) + 10, style: 'fill:#f00'});
  
  
  label.textContent = String(t === 0 ? '0' : t.toFixed(1));
});

// ---------- Panel B ----------
const panelB = document.getElementById('panel-b');
const heightTop = 0.342, heightBottom = 0.0106;
const base = mk(panelB, 'rect', {x: plotLeft, y: yHeight(heightTop), width: plotRight - plotLeft, height: yHeight(heightBottom) - yHeight(heightTop), fill: jet(bandSpeeds[0] / 0.5)});


contourLevels.forEach((lvl, k) => {
  const pts = contourColumns.map(col => {
    const h = col[k + 1] === undefined ? heightTop : Math.min(col[k + 1], heightTop);
    return xTime(col[0]).toFixed(1) + ',' + yHeight(Math.max(h, heightBottom)).toFixed(1);
  });
  pts.push(xTime(168).toFixed(1) + ',' + yHeight(heightTop).toFixed(1));
  pts.push(xTime(120).toFixed(1) + ',' + yHeight(heightTop).toFixed(1));
  const band = mk(panelB, 'polygon', {points: pts.join(' '), fill: jet(bandSpeeds[k + 1] / 0.5)});
  
  
});
const bedPts = nearBedHours.map((h, i) => xTime(h).toFixed(1) + ',' + yHeight(nearBedTops[i]).toFixed(1));
bedPts.push(xTime(nearBedHours[nearBedHours.length - 1]).toFixed(1) + ',' + yHeight(heightBottom).toFixed(1));
bedPts.push(xTime(nearBedHours[0]).toFixed(1) + ',' + yHeight(heightBottom).toFixed(1));
const bedLayer = mk(panelB, 'polygon', {points: bedPts.join(' '), fill: jet(bandSpeeds[1] / 0.5)});


patchHours.forEach((h, i) => {
  const patch = mk(panelB, 'ellipse', {cx: xTime(h), cy: yHeight(patchHeights[i]), rx: patchHalfHours[i] * (plotRight - plotLeft) / 48, ry: patchHalfMeters[i] * 943, fill: jet(patchSpeeds[i] / 0.5)});
  
  
});
drawFrame(panelB, 372, 702.7, 'panel-b-frame');
drawTimeTicks(panelB, 372, 702.7);
drawYTicks(panelB, heightTicks, yHeight, heightTicks.map(String));
const panelBLabel = mk(panelB, 'text', {x: 137, y: 425, style: 'fill:#fff'});


panelBLabel.textContent = '(B)';

// ---------- Colorbar ----------
const cbar = document.getElementById('colorbar');
const defs = mk(cbar, 'defs', {});
const grad = mk(defs, 'linearGradient', {id: 'jet-gradient', x1: 0, x2: 0, y1: 1, y2: 0});
for (let s = 0; s <= 20; s++) mk(grad, 'stop', {offset: s / 20, 'stop-color': jet(s / 20)});
const cbarRect = mk(cbar, 'rect', {x: 1534, y: 452.3, width: 50, height: 249.4, fill: 'url(#jet-gradient)', stroke: '#332', 'stroke-width': 1.6});


colorbarTicks.forEach((t, i) => {
  const label = mk(cbar, 'text', {x: 1592, y: yColorbar(t) + 10, 'font-size': 30});
  
  
  label.textContent = colorbarTickLabels[i];
});

// ---------- Panel C ----------
const panelC = document.getElementById('panel-c');
drawLine(panelC, ssc20Hours, ssc20Values, ySSC, '#f00', 2.8, 'ssc-20cm-line');
drawLine(panelC, ssc30Hours, ssc30Values, ySSC, '#000', 3, 'ssc-30cm-line');
drawFrame(panelC, 737, 1069, 'panel-c-frame');
drawTimeTicks(panelC, 737, 1069);
drawYTicks(panelC, sscTicks, ySSC, sscTicks.map(String));

// ---------- Panel D ----------
const panelD = document.getElementById('panel-d');
drawDots(panelD, enhancedHours, enhancedValues, '#00f', 'enhanced-mixing-point');
drawDots(panelD, suppressedHours, suppressedValues, '#f00', 'suppressed-mixing-point');
drawFrame(panelD, 1101, 1432.5, 'panel-d-frame');
drawTimeTicks(panelD, 1101, 1432.5);
drawYTicks(panelD, riTicks, yRi, riTicks.map(String));
timeTicks.forEach(t => {
  const label = mk(panelD, 'text', {x: xTime(t), y: 1470, 'text-anchor': 'middle'});
  
  
  label.textContent = String(t);
});

// ---------- Tidal cycle divider ----------
const overlay = document.getElementById('overlay');
const divider = mk(overlay, 'line', {x1: xTime(144), x2: xTime(144), y1: 27, y2: 1409, stroke: '#f00', 'stroke-width': 5.5, 'stroke-dasharray': '10 4'});


</script>
</body>
</html>
